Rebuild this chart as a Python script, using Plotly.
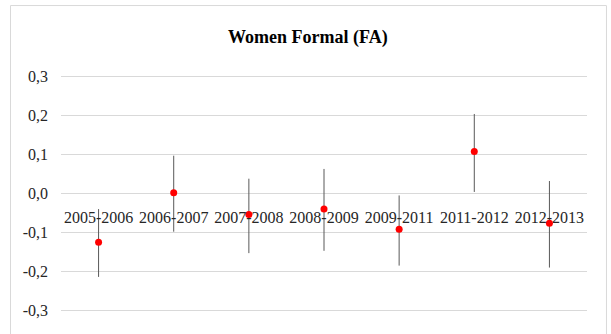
import plotly.graph_objects as go

periods = ["2005-2006", "2006-2007", "2007-2008", "2008-2009", "2009-2011", "2011-2012", "2012-2013"]
estimate = [-0.125, 0.002, -0.054, -0.040, -0.092, 0.108, -0.076]
ci_upper = [-0.040, 0.097, 0.038, 0.063, -0.005, 0.204, 0.032]
ci_lower = [-0.214, -0.098, -0.153, -0.147, -0.185, 0.004, -0.190]

y_ticks = [-0.3, -0.2, -0.1, 0.0, 0.1, 0.2, 0.3]
y_tick_labels = ["-0,3", "-0,2", "-0,1", "0,0", "0,1", "0,2", "0,3"]

plus = [u - e for u, e in zip(ci_upper, estimate)]
minus = [e - l for e, l in zip(estimate, ci_lower)]

serif = "Liberation Serif, Times New Roman, serif"

fig = go.Figure()
fig.add_trace(go.Scatter(
    x=periods, y=estimate, mode="markers",
    marker=dict(color="#ff0000", size=7),
    error_y=dict(type="data", symmetric=False, array=plus, arrayminus=minus,
                 color="#595959", thickness=1, width=0),
    showlegend=False,
))

fig.update_layout(
    width=611, height=334,
    margin=dict(l=61, r=24, t=74.7, b=22.4),
    paper_bgcolor="white", plot_bgcolor="white",
    title=dict(text="<b>Women Formal (FA)</b>", x=0.504, xanchor="center",
               y=1 - 37 / 334, yanchor="middle",
               font=dict(family=serif, size=18, color="#000000")),
    xaxis=dict(type="category", range=[-0.5, 6.5], anchor="free", position=0.5,
               showgrid=False, zeroline=False, showline=False,
               ticks="outside", ticklen=9, tickcolor="rgba(0,0,0,0)",
               tickfont=dict(family=serif, size=16, color="#262626")),
    yaxis=dict(range=[-0.304, 0.304], tickvals=y_ticks, ticktext=y_tick_labels,
               showgrid=True, gridcolor="#d9d9d9", gridwidth=1,
               zeroline=False, showline=False, ticks="", ticklabelstandoff=12,
               tickfont=dict(family=serif, size=16, color="#262626")),
    shapes=[dict(type="rect", xref="paper", yref="paper",
                 x0=-0.096, x1=1.037, y0=-0.097, y1=1.293,
                 line=dict(color="#d9d9d9", width=1), fillcolor="rgba(0,0,0,0)",
                 layer="above")],
)

fig.write_html("out.html",
               config={"displayModeBar": False},
               post_script="document.body.style.margin='0';document.body.style.overflow='hidden';")
